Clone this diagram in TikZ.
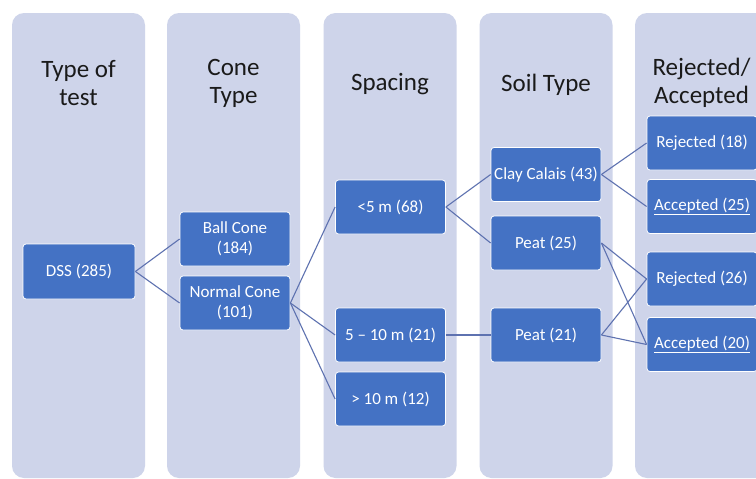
\documentclass[tikz,border=0pt]{standalone}
\usepackage{fontspec}
\setmainfont{Carlito}
\definecolor{colbg}{HTML}{CED4EA}
\definecolor{boxbg}{HTML}{4472C4}
\definecolor{linkc}{HTML}{5E72B0}
\definecolor{headc}{HTML}{1A1A1A}
\begin{document}
\begin{tikzpicture}[x=1pt,y=-1pt,
  column/.style={fill=colbg, draw=none, rounded corners=12pt,
    minimum width=133pt, minimum height=465pt, inner sep=0pt},
  head/.style={text=headc, align=center, font=\fontsize{25}{28}\selectfont},
  item/.style={fill=boxbg, draw=white, line width=0.8pt, rounded corners=3pt,
    minimum width=110pt, minimum height=54pt, inner sep=1pt, text=white,
    align=center, font=\fontsize{17}{20}\selectfont},
  link/.style={draw=linkc, line width=1.1pt}]
\useasboundingbox (0,0) rectangle (756,479);
\clip (0,0) rectangle (756,479);
\fill[white] (0,0) rectangle (756,479);

% background columns
\node[column] (c1) at (78.5,245.5) {};
\node[column] (c2) at (233.5,245.5) {};
\node[column] (c3) at (390,245.5) {};
\node[column] (c4) at (546,245.5) {};
\node[column] (c5) at (701.5,245.5) {};

% column headings
\node[head] (h1) at (78.5,83) {Type of\\test};
\node[head] (h2) at (233.5,83) {Cone\\Type};
\node[head] (h3) at (390,84.5) {Spacing};
\node[head] (h4) at (546,84.5) {Soil Type};
\node[head] (h5) at (701.5,83) {Rejected/\\Accepted};

% tree nodes
\node[item, minimum width=112pt, minimum height=55pt] (dss) at (79,271.5) {DSS (285)};
\node[item] (ball) at (235,239) {Ball Cone\\(184)};
\node[item] (normal) at (235,303) {Normal Cone\\(101)};
\node[item] (s1) at (390.5,207) {<5 m (68)};
\node[item] (s2) at (390.5,335) {5 -- 10 m (21)};
\node[item] (s3) at (390.5,399) {> 10 m (12)};
\node[item] (clay) at (546,174.5) {Clay Calais (43)};
\node[item] (peatA) at (546,243) {Peat (25)};
\node[item] (peatB) at (546,335) {Peat (21)};
\node[item] (rej1) at (702,143) {Rejected (18)};
\node[item] (acc1) at (702,206.5) {\underline{Accepted (25)}};
\node[item] (rej2) at (702,279) {Rejected (26)};
\node[item] (acc2) at (702,344.5) {\underline{Accepted (20)}};

% connectors
\draw[link] (dss.east) -- (ball.west);
\draw[link] (dss.east) -- (normal.west);
\draw[link] (normal.east) -- (s1.west);
\draw[link] (normal.east) -- (s2.west);
\draw[link] (normal.east) -- (s3.west);
\draw[link] (s1.east) -- (clay.west);
\draw[link] (s1.east) -- (peatA.west);
\draw[link] (s2.east) -- (peatB.west);
\draw[link] (clay.east) -- (rej1.west);
\draw[link] (clay.east) -- (acc1.west);
\draw[link] (peatA.east) -- (rej2.west);
\draw[link] (peatA.east) -- (acc2.west);
\draw[link] (peatB.east) -- (rej2.west);
\draw[link] (peatB.east) -- (acc2.west);
\end{tikzpicture}
\end{document}
